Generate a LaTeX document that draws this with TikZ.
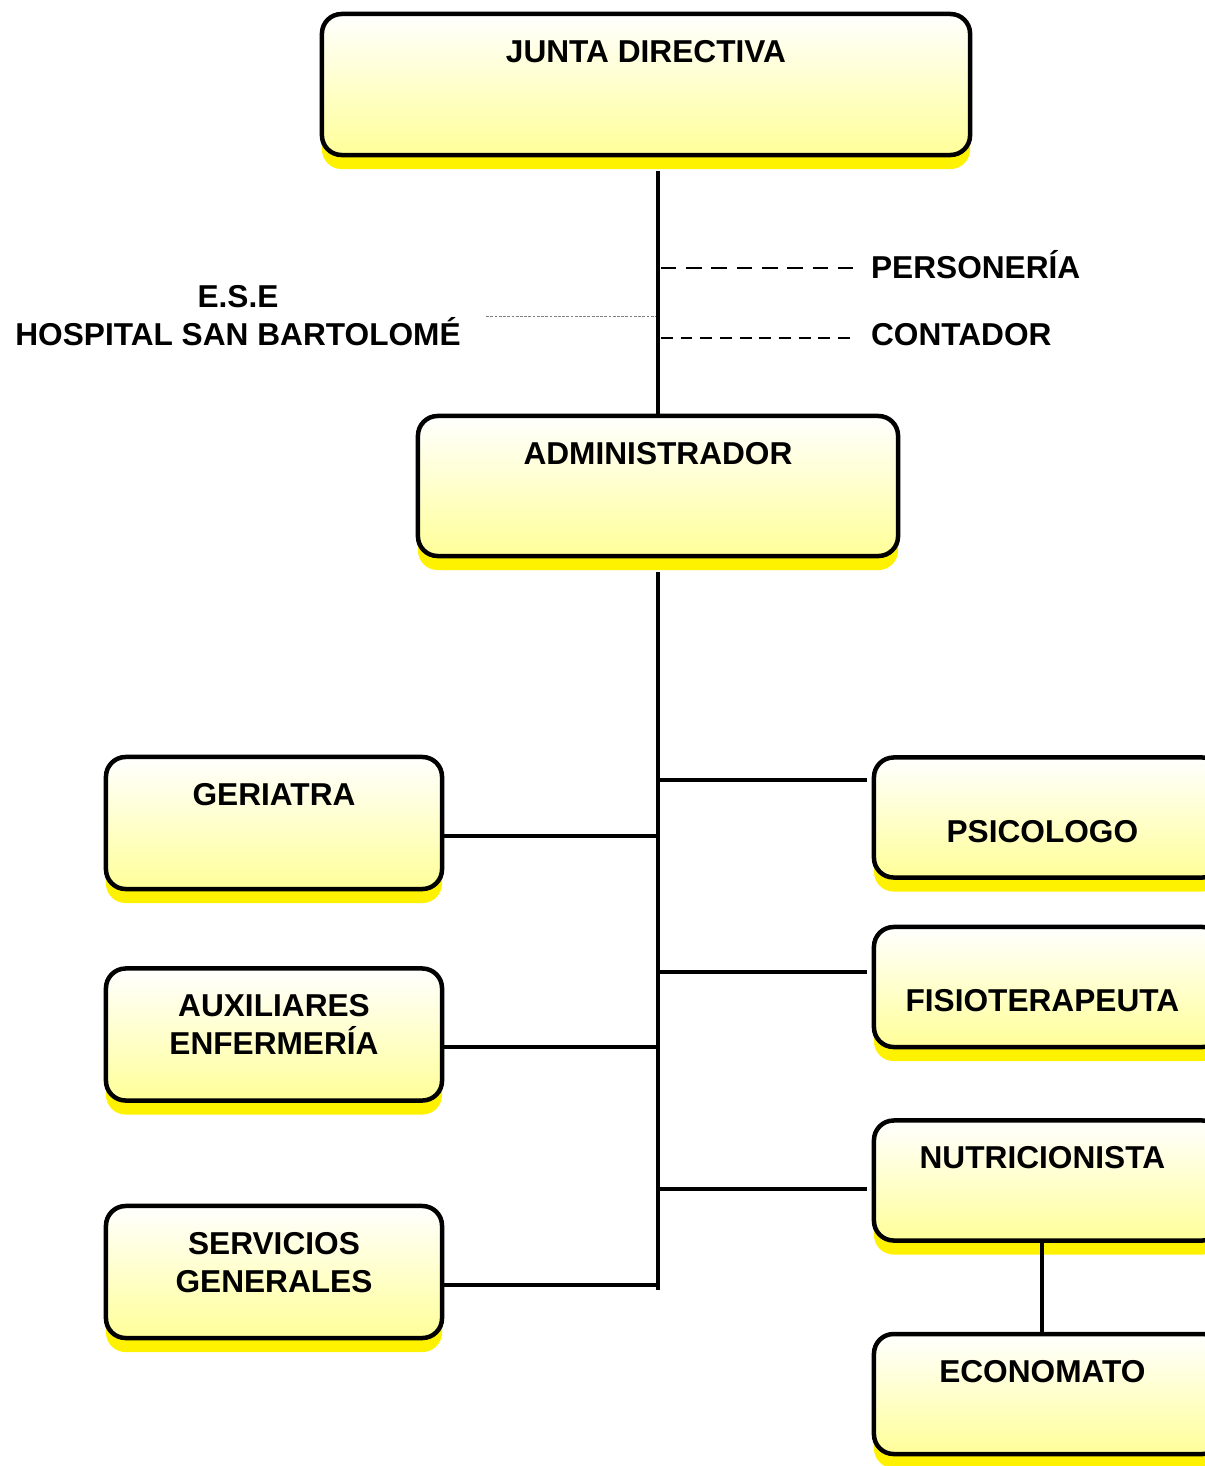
\documentclass[tikz,border=0pt]{standalone}
\usepackage{fontspec}
\setmainfont{Liberation Sans}
\usetikzlibrary{positioning, calc, shadows}

\begin{document}
\begin{tikzpicture}[
    x=0.025cm, y=-0.025cm,
    every node/.style={font=\bfseries\fontsize{22.5}{27}\selectfont},
    orgbox/.style={rectangle, draw, line width=3.2pt, rounded corners=14pt, top color=white, bottom color=yellow!40, minimum width=8.4cm, minimum height=3.3cm, drop shadow={shadow xshift=0pt, shadow yshift=-10pt, fill=yellow, opacity=1}},
    boxtext/.style={anchor=north, inner sep=0pt, yshift=-20pt, align=center},
    lowtext/.style={anchor=north, inner sep=0pt, yshift=-46pt, align=center},
    plain/.style={inner sep=2pt, align=center},
    link/.style={line width=3.4pt},
    persline/.style={line width=2pt, dash pattern=on 11pt off 7pt, shorten <=2pt, shorten >=8pt},
    contline/.style={line width=2pt, dash pattern=on 8.5pt off 5.5pt, shorten <=2pt, shorten >=8pt},
    eseline/.style={gray, line width=0.7pt, dash pattern=on 2pt off 1pt, shorten <=16pt, shorten >=2pt}
]
\useasboundingbox (0,0) rectangle (1204,1466);

% top of the chart
\node[orgbox, minimum width=16.2cm, minimum height=3.525cm, label={[boxtext]north:JUNTA DIRECTIVA}] (junta) at (646,84.5) {};
\node[orgbox, minimum width=12cm, minimum height=3.5cm, label={[boxtext]north:ADMINISTRADOR}] (admin) at (658,486) {};

% side texts
\node[plain, anchor=west] (pers) at (868,265) {PERSONERÍA};
\node[plain, anchor=west] (cont) at (868,335) {CONTADOR};
\node[plain] (ese) at (238,316) {E.S.E\\HOSPITAL SAN BARTOLOMÉ};

% left column
\node[orgbox, label={[boxtext]north:GERIATRA}] (geri) at (274,823) {};
\node[orgbox, label={[boxtext]north:AUXILIARES\\ENFERMERÍA}] (aux) at (274,1034.5) {};
\node[orgbox, label={[boxtext]north:SERVICIOS\\GENERALES}] (serv) at (274,1272) {};

% right column (runs past the page edge)
\node[orgbox, minimum width=8.7cm, minimum height=3cm, label={[lowtext, xshift=-4pt]north:PSICOLOGO}] (psico) at (1048,817.5) {};
\node[orgbox, minimum width=8.7cm, minimum height=3cm, label={[lowtext, xshift=-4pt]north:FISIOTERAPEUTA}] (fisio) at (1048,987) {};
\node[orgbox, minimum width=8.7cm, minimum height=3cm, label={[boxtext, xshift=-4pt]north:NUTRICIONISTA}] (nutri) at (1048,1180.5) {};
\node[orgbox, minimum width=8.7cm, minimum height=3cm, label={[boxtext, xshift=-4pt]north:ECONOMATO}] (econ) at (1048,1394) {};

% joints
\coordinate (trunkend) at (658,1290);
\coordinate (gerij) at ($(geri.east)+(0,13)$);
\coordinate (auxj) at ($(aux.east)+(0,12.5)$);
\coordinate (servj) at ($(serv.east)+(0,13)$);
\coordinate (psicoj) at ($(psico.west)+(0,-37.5)$);
\coordinate (fisioj) at ($(fisio.west)+(0,-15)$);
\coordinate (nutrij) at ($(nutri.west)+(0,8.5)$);
\coordinate (econj) at ($(econ.north)+(-6,0)$);

% trunk
\draw[link, shorten <=10pt] (admin.north |- junta.south) -- (admin.north);
\draw[link, shorten <=10pt] (admin.south) -- (trunkend);

% staff lines
\draw[persline] ($(pers.west -| admin.north)+(0,3)$) -- ($(pers.west)+(0,3)$);
\draw[contline] ($(cont.west -| admin.north)+(0,3)$) -- ($(cont.west)+(0,3)$);
\draw[eseline] (ese.east) -- (ese.east -| admin.north);

% branches
\draw[link] (gerij) -- (gerij -| admin.south);
\draw[link] (auxj) -- (auxj -| admin.south);
\draw[link] (servj) -- (servj -| admin.south);
\draw[link, shorten >=3pt] (psicoj -| admin.south) -- (psicoj);
\draw[link, shorten >=3pt] (fisioj -| admin.south) -- (fisioj);
\draw[link, shorten >=3pt] (nutrij -| admin.south) -- (nutrij);
\draw[link] (econj |- nutri.south) -- (econj);

\end{tikzpicture}
\end{document}
